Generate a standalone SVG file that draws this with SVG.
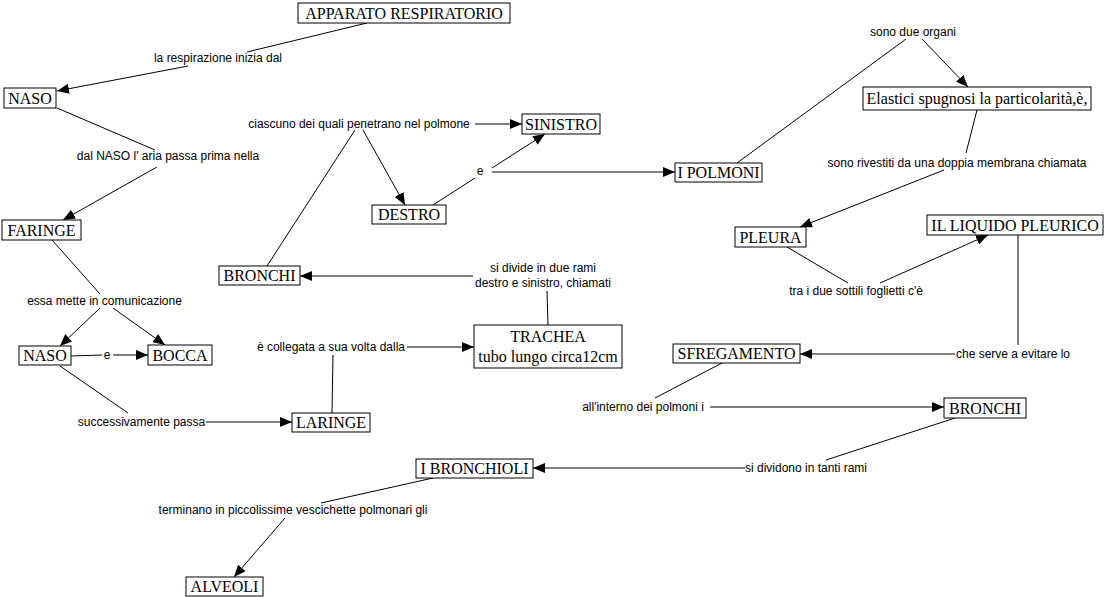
<svg xmlns="http://www.w3.org/2000/svg" width="1105" height="597" viewBox="0 0 1105 597">
<style>
.node rect{fill:#fff;stroke:#000;stroke-width:1}
.node text{font-family:"Liberation Serif","Times New Roman",serif;font-size:16px;text-anchor:middle;fill:#000}
.lbl{font-family:"Liberation Sans",Arial,sans-serif;font-size:12px;text-anchor:middle;fill:#000}
.c line{stroke:#000;stroke-width:1}
.c line.a{marker-end:url(#ah)}
</style>
<defs>
<marker id="ah" markerUnits="userSpaceOnUse" markerWidth="12" markerHeight="10" refX="12" refY="5" orient="auto">
<path d="M0,0 L12,5 L0,10 z" fill="#000"/>
</marker>
</defs>
<rect width="1105" height="597" fill="#fff"/>
<g id="connectors" class="c">
<line x1="367" y1="23" x2="247" y2="52"/>
<line class="a" x1="188" y1="66" x2="57" y2="91"/>
<line x1="57" y1="108" x2="155" y2="150"/>
<line class="a" x1="157" y1="167" x2="63" y2="220"/>
<line x1="52" y1="240" x2="100" y2="294"/>
<line class="a" x1="100" y1="308" x2="60" y2="346"/>
<line class="a" x1="113" y1="308" x2="165" y2="345"/>
<line x1="71" y1="356" x2="102" y2="355"/>
<line class="a" x1="113" y1="355" x2="148" y2="355"/>
<line x1="60" y1="366" x2="128" y2="413"/>
<line class="a" x1="206" y1="422" x2="292" y2="422"/>
<line x1="332" y1="413" x2="333" y2="355"/>
<line class="a" x1="407" y1="347" x2="474" y2="347"/>
<line x1="548" y1="325" x2="547" y2="291"/>
<line class="a" x1="473" y1="276" x2="300" y2="276"/>
<line x1="267" y1="266" x2="355" y2="130"/>
<line class="a" x1="363" y1="130" x2="405" y2="205"/>
<line class="a" x1="475" y1="124" x2="522" y2="124"/>
<line x1="433" y1="205" x2="475" y2="178"/>
<line class="a" x1="492" y1="168" x2="545" y2="134"/>
<line class="a" x1="492" y1="172" x2="675" y2="172"/>
<line x1="737" y1="163" x2="906" y2="39"/>
<line class="a" x1="922" y1="39" x2="968" y2="87"/>
<line x1="977" y1="110" x2="966" y2="153"/>
<line class="a" x1="944" y1="170" x2="800" y2="227"/>
<line x1="787" y1="247" x2="848" y2="283"/>
<line class="a" x1="880" y1="283" x2="988" y2="235"/>
<line x1="1018" y1="235" x2="1018" y2="345"/>
<line class="a" x1="955" y1="354" x2="800" y2="354"/>
<line x1="722" y1="363" x2="655" y2="398"/>
<line class="a" x1="710" y1="407" x2="944" y2="407"/>
<line x1="955" y1="418" x2="826" y2="460"/>
<line class="a" x1="745" y1="468" x2="533" y2="468"/>
<line x1="433" y1="478" x2="321" y2="503"/>
<line class="a" x1="285" y1="518" x2="234" y2="577"/>
<g id="labels">
<text class="lbl" x="218" y="62">la respirazione inizia dal</text>
<text class="lbl" x="168" y="160">dal NASO l' aria passa prima nella</text>
<text class="lbl" x="104.5" y="305">essa mette in comunicazione</text>
<text class="lbl" x="107" y="359">e</text>
<text class="lbl" x="141.5" y="426">successivamente passa</text>
<text class="lbl" x="331" y="351">è collegata a sua volta dalla</text>
<text class="lbl" x="543" y="272">si divide in due rami</text>
<text class="lbl" x="543" y="287">destro e sinistro, chiamati</text>
<text class="lbl" x="359" y="128">ciascuno dei quali penetrano nel polmone</text>
<text class="lbl" x="480" y="175">e</text>
<text class="lbl" x="913" y="36">sono due organi</text>
<text class="lbl" x="957" y="167">sono rivestiti da una doppia membrana chiamata</text>
<text class="lbl" x="856" y="295">tra i due sottili foglietti c'è</text>
<text class="lbl" x="1013" y="358">che serve a evitare lo</text>
<text class="lbl" x="643" y="411">all'interno dei polmoni i</text>
<text class="lbl" x="806" y="472">si dividono in tanti rami</text>
<text class="lbl" x="293" y="514">terminano in piccolissime vescichette polmonari gli</text>
</g>
</g>
<g id="n-apparato" class="node"><rect x="298" y="3" width="212" height="20"/><text x="404" y="19">APPARATO RESPIRATORIO</text></g>
<g id="n-naso1" class="node"><rect x="4" y="88" width="52" height="20"/><text x="30" y="104">NASO</text></g>
<g id="n-faringe" class="node"><rect x="2" y="220" width="79" height="20"/><text x="41.5" y="236">FARINGE</text></g>
<g id="n-naso2" class="node"><rect x="19" y="346" width="52" height="19"/><text x="45" y="361">NASO</text></g>
<g id="n-bocca" class="node"><rect x="148" y="345" width="64" height="20"/><text x="180" y="361">BOCCA</text></g>
<g id="n-laringe" class="node"><rect x="292" y="413" width="78" height="19"/><text x="331" y="428">LARINGE</text></g>
<g id="n-bronchi1" class="node"><rect x="219" y="266" width="81" height="19"/><text x="259.5" y="281">BRONCHI</text></g>
<g id="n-destro" class="node"><rect x="372" y="205" width="74" height="19"/><text x="409" y="220">DESTRO</text></g>
<g id="n-sinistro" class="node"><rect x="522" y="114" width="78" height="20"/><text x="561" y="130">SINISTRO</text></g>
<g id="n-polmoni" class="node"><rect x="675" y="163" width="87" height="19"/><text x="718.5" y="178">I POLMONI</text></g>
<g id="n-trachea" class="node"><rect x="474" y="325" width="148" height="43"/><text x="548" y="342">TRACHEA</text><text x="548" y="362">tubo lungo circa12cm</text></g>
<g id="n-elastici" class="node"><rect x="863" y="87" width="228" height="23"/><text x="977" y="104">Elastici spugnosi la particolarità,è,</text></g>
<g id="n-pleura" class="node"><rect x="735" y="227" width="71" height="20"/><text x="770.5" y="243">PLEURA</text></g>
<g id="n-liquido" class="node"><rect x="927" y="215" width="176" height="20"/><text x="1015" y="231">IL LIQUIDO PLEURICO</text></g>
<g id="n-sfregamento" class="node"><rect x="673" y="344" width="127" height="19"/><text x="736.5" y="359">SFREGAMENTO</text></g>
<g id="n-bronchi2" class="node"><rect x="944" y="398" width="82" height="20"/><text x="985" y="414">BRONCHI</text></g>
<g id="n-bronchioli" class="node"><rect x="416" y="459" width="117" height="19"/><text x="474.5" y="474">I BRONCHIOLI</text></g>
<g id="n-alveoli" class="node"><rect x="186" y="577" width="77" height="19"/><text x="224.5" y="592">ALVEOLI</text></g>
</svg>
